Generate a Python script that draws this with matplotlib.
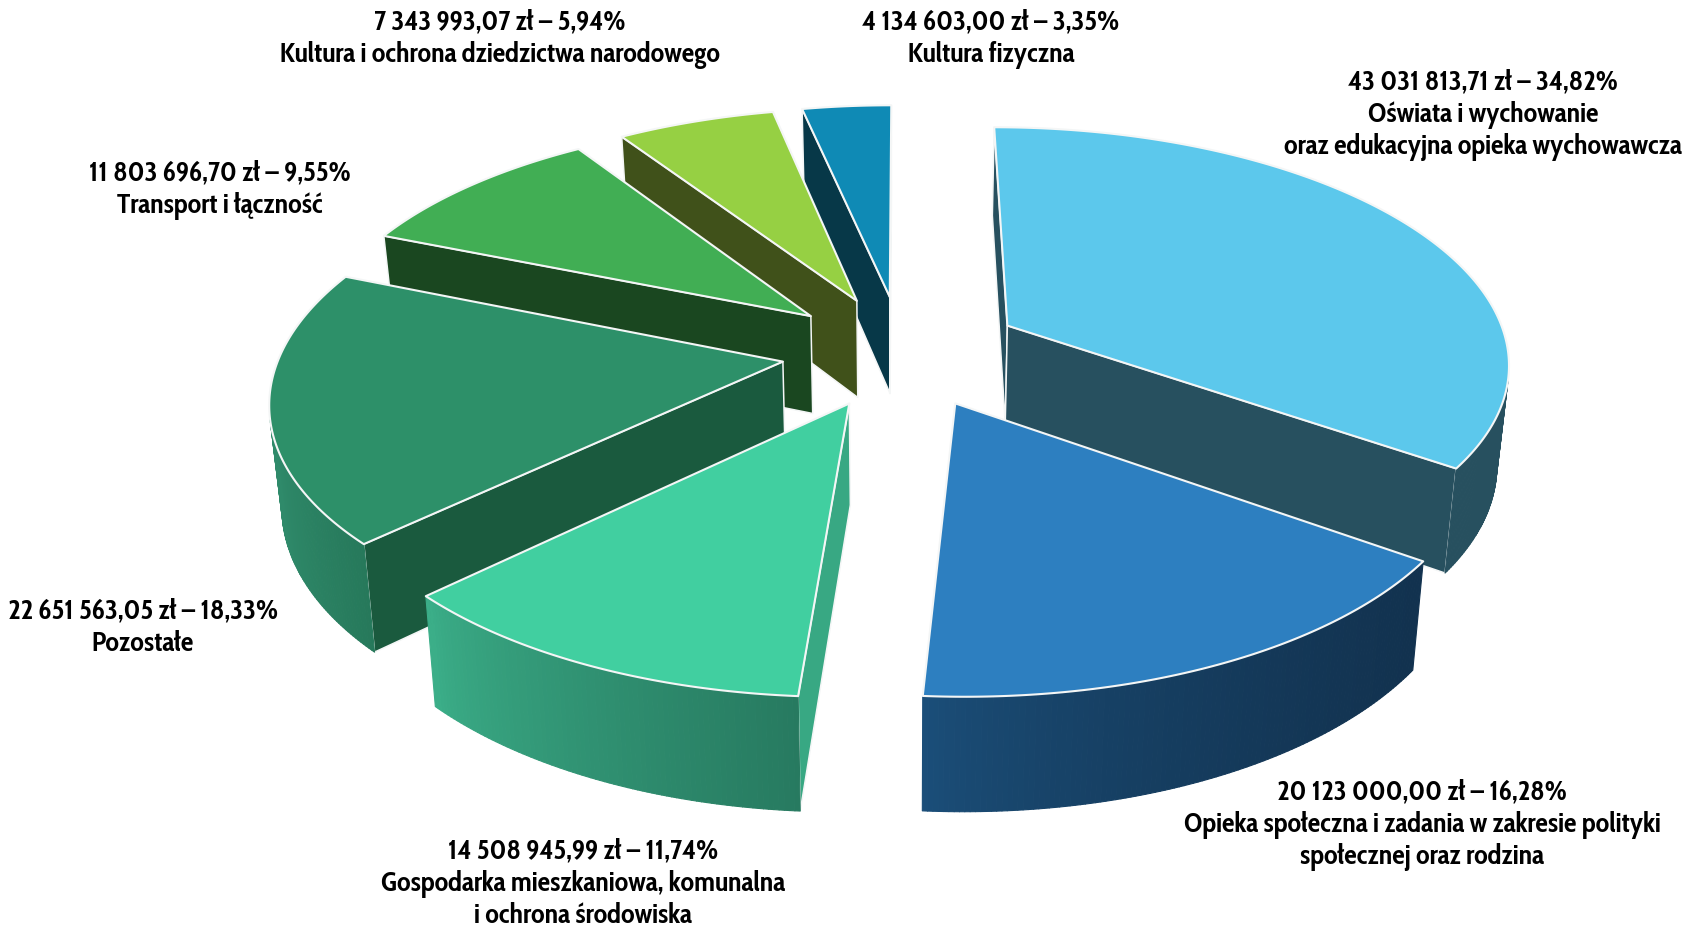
import numpy as np
import matplotlib
matplotlib.use("Agg")
import matplotlib.pyplot as plt
from matplotlib.patches import Polygon
from matplotlib.collections import PolyCollection

# --- Data, clockwise from 12 o'clock ---
amounts = ["43 031 813,71", "20 123 000,00", "14 508 945,99", "22 651 563,05",
           "11 803 696,70", "7 343 993,07", "4 134 603,00"]
shares = [34.82, 16.28, 11.74, 18.33, 9.55, 5.94, 3.35]
names = ["Oświata i wychowanie\noraz edukacyjna opieka wychowawcza",
         "Opieka społeczna i zadania w zakresie polityki\nspołecznej oraz rodzina",
         "Gospodarka mieszkaniowa, komunalna\ni ochrona środowiska",
         "Pozostałe",
         "Transport i łączność",
         "Kultura i ochrona dziedzictwa narodowego",
         "Kultura fizyczna"]

# --- Styles ---
top_colors = ["#5cc8ec", "#2d7fc0", "#41cfa0", "#2d9069", "#41ae54", "#96d043", "#0f8ab5"]
side_colors = ["#27505f", "#12324f", "#38a883", "#1a5a3e", "#1a4720", "#40511a", "#073848"]
wall_left = ["#27505f", "#1b4f7a", "#3bae88", "#2f8a6a", "#41ae54", "#96d043", "#0f8ab5"]
wall_right = ["#27505f", "#12324f", "#277a60", "#26785a", "#1a4720", "#40511a", "#073848"]
label_xy = [(1483, 115), (1422, 825), (583, 884), (143, 628), (220, 190), (500, 39), (991, 39)]
draw_order = [6, 5, 4, 3, 0, 2, 1]

# --- Projection parameters, in pixels of the output image ---
CX, CY = 902.0, 352.0
SX, SY = 502.0, 234.0
PERSP = 0.145
DEPTH = 99.0
TAPER = 0.02  # the bottom of the pie is a little narrower than the top
EXPLODE = 0.24
EDGE = "#f4f6f6"
LONGEST_LABEL_PX = 398.0  # width of the longest label line in the reference


def project(x, y, z=0.0):
    """Simple perspective: the far side of the disc (y > 0) is smaller."""
    w = 1 + PERSP * np.asarray(y)
    return np.column_stack([CX + SX * np.asarray(x) / w * (1 - TAPER * z),
                            CY - SY * np.asarray(y) / w + DEPTH * z / w ** 0.77])


def is_front(quad):
    # the image y axis points down, so a face turned to us has negative area here
    x, y = quad[:, 0], quad[:, 1]
    return np.sum(x * np.roll(y, -1) - np.roll(x, -1) * y) < 0


def mix(c1, c2, t):
    a = np.array(matplotlib.colors.to_rgb(c1))
    b = np.array(matplotlib.colors.to_rgb(c2))
    return a + (b - a) * t


def draw_slice(ax, i, start, end):
    mid = np.radians((start + end) / 2)
    ox, oy = EXPLODE * np.sin(mid), EXPLODE * np.cos(mid)
    th = np.radians(np.linspace(start, end, max(int(end - start) * 2, 12)))
    rx, ry = ox + np.sin(th), oy + np.cos(th)
    top_rim, low_rim = project(rx, ry, 0), project(rx, ry, 1)
    apex_top = project([ox], [oy], 0)[0]
    apex_low = project([ox], [oy], 1)[0]

    # radial faces
    face_a = np.array([apex_top, top_rim[0], low_rim[0], apex_low])
    face_b = np.array([apex_top, apex_low, low_rim[-1], top_rim[-1]])
    for face in (face_a, face_b):
        if is_front(face):
            ax.add_patch(Polygon(face, closed=True, facecolor=side_colors[i],
                                 edgecolor=EDGE, linewidth=1.1, joinstyle="round"))

    # curved wall, in short strips so that it can carry a gradient
    quads, cols = [], []
    xmin, xmax = low_rim[:, 0].min(), low_rim[:, 0].max()
    for j in range(len(th) - 1):
        q = np.array([top_rim[j], top_rim[j + 1], low_rim[j + 1], low_rim[j]])
        if is_front(q):
            quads.append(q)
            t = np.clip((q[:, 0].mean() - xmin) / max(xmax - xmin, 1), 0, 1)
            cols.append(mix(wall_left[i], wall_right[i], t ** 0.7))
    if quads:
        ax.add_collection(PolyCollection(quads, facecolors=cols, edgecolors=cols, linewidths=0.8))

    # top of the slice
    outline = np.vstack([apex_top, top_rim])
    ax.add_patch(Polygon(outline, closed=True, facecolor=top_colors[i],
                         edgecolor=EDGE, linewidth=1.5, joinstyle="round"))


def fit_fontsize(fig, ax):
    """Pick the size at which the longest line is as wide as in the reference."""
    probe = ax.text(0, 0, "oraz edukacyjna opieka wychowawcza", fontsize=18, fontweight="bold")
    width = probe.get_window_extent(fig.canvas.get_renderer()).width
    probe.remove()
    return 18 * LONGEST_LABEL_PX / width


def main():
    plt.rcParams["font.family"] = ["Cabin Condensed", "Liberation Sans", "DejaVu Sans"]
    fig = plt.figure(figsize=(17, 9.29), dpi=100)
    ax = fig.add_axes([0, 0, 1, 1])
    ax.set_xlim(0, 1700)
    ax.set_ylim(929, 0)
    ax.axis("off")

    edges = np.concatenate([[0], np.cumsum(shares)]) / sum(shares) * 360
    for i in draw_order:
        draw_slice(ax, i, edges[i], edges[i + 1])

    size = fit_fontsize(fig, ax)
    for i, (x, y) in enumerate(label_xy):
        label = f"{amounts[i]} zł – {shares[i]:.2f}".replace(".", ",") + "%\n" + names[i]
        ax.text(x, y, label, ha="center", va="center", fontsize=size, fontweight="bold",
                color="black", linespacing=1.21)

    fig.savefig("out.png", dpi=100)
    plt.close(fig)


if __name__ == "__main__":
    main()
